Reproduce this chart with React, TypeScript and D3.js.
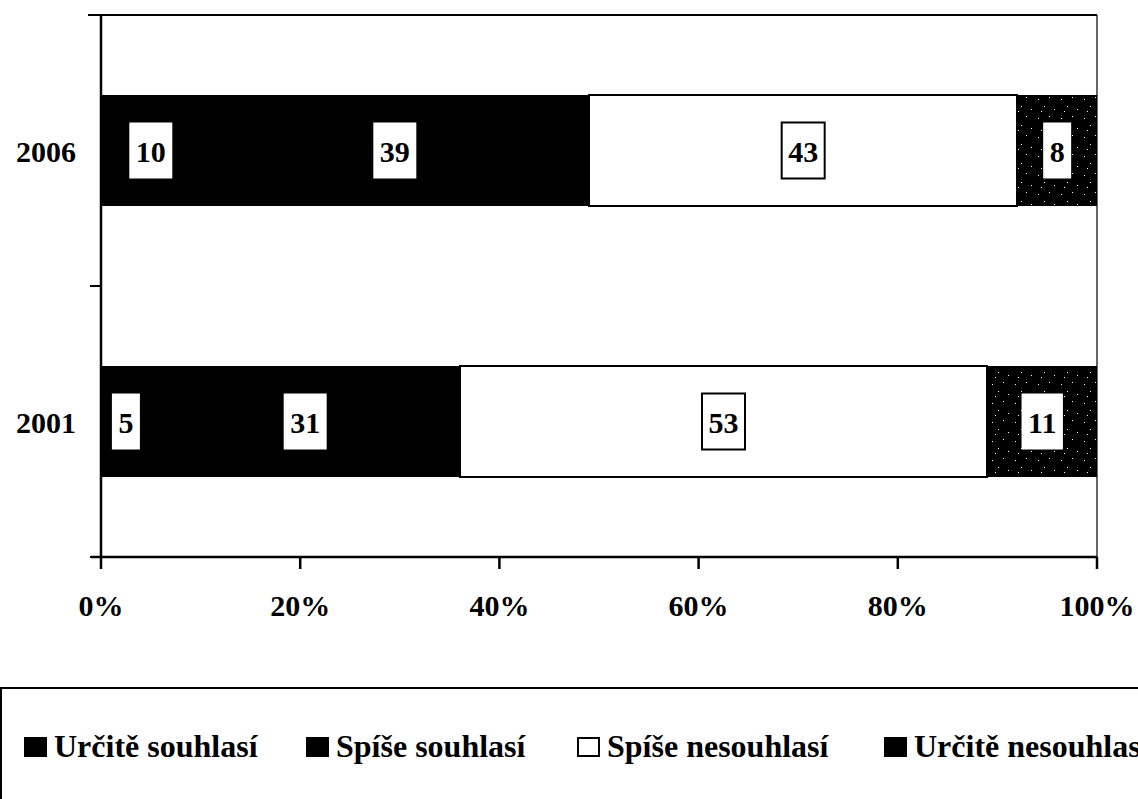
import React, { useRef, useEffect } from 'react';
import * as d3 from 'd3';

const years = ['2006', '2001'];
const seriesNames = ['Určitě souhlasí', 'Spíše souhlasí', 'Spíše nesouhlasí', 'Určitě nesouhlasí'];
const values2006 = [10, 39, 43, 8];
const values2001 = [5, 31, 53, 11];
const xTicks = [0, 20, 40, 60, 80, 100];

const fills = ['#000', '#000', '#fff', 'url(#speckle)'];

const App = () => {
    const chartRef = useRef(null);

    useEffect(() => {
        document.body.style.margin = '0';
        const width = 1138;
        const height = 799;
        const margin = { top: 15, right: 41, bottom: 242, left: 101 };
        const font = '"Liberation Serif", "Times New Roman", serif';

        const svg = d3.select(chartRef.current)
            .attr('width', width)
            .attr('height', height)
            .style('display', 'block')
            .style('background', '#fff');
        svg.selectAll('*').remove();

        const defs = svg.append('defs');
        const pat = defs.append('pattern')
            .attr('id', 'speckle')
            .attr('patternUnits', 'userSpaceOnUse')
            .attr('width', 23).attr('height', 19);
        pat.append('rect').attr('width', 23).attr('height', 19).attr('fill', '#000');
        [[3, 4], [14, 2], [9, 11], [19, 14], [6, 16]].forEach(([px, py]) => {
            pat.append('rect').attr('x', px).attr('y', py).attr('width', 1).attr('height', 1).attr('fill', '#fff');
        });

        const x = d3.scaleLinear()
            .domain([0, 100])
            .range([margin.left, width - margin.right]);
        const y = d3.scaleBand()
            .domain(years)
            .range([margin.top, height - margin.bottom])
            .paddingInner(0.594)
            .paddingOuter(0.297);

        const table = years.map((yr, i) => {
            const vals = i === 0 ? values2006 : values2001;
            const row = { year: yr };
            seriesNames.forEach((s, j) => { row[s] = vals[j]; });
            return row;
        });
        const stacked = d3.stack().keys(seriesNames)(table);

        const x0 = x(0), x1 = x(100);
        const yTop = margin.top, yBot = height - margin.bottom;

        // thin plot border top / right
        svg.append('line').attr('x1', x0 - 13).attr('x2', x1).attr('y1', yTop).attr('y2', yTop)
            .attr('stroke', '#000').attr('stroke-width', 2);
        svg.append('line').attr('x1', x1).attr('x2', x1).attr('y1', yTop).attr('y2', yBot)
            .attr('stroke', '#000').attr('stroke-width', 1.2);

        // bars
        stacked.forEach((layer, j) => {
            svg.append('g')
                .selectAll('rect')
                .data(layer)
                .enter().append('rect')
                .attr('x', d => x(d[0]))
                .attr('y', d => y(d.data.year))
                .attr('width', d => x(d[1]) - x(d[0]) + (j < 2 ? 1 : 0))
                .attr('height', y.bandwidth())
                .attr('fill', fills[j])
                .attr('shape-rendering', 'crispEdges')
                .attr('stroke', '#000')
                .attr('stroke-width', j === 2 ? 2 : 0);
        });

        // axes
        svg.append('line').attr('x1', x0).attr('x2', x0).attr('y1', yTop).attr('y2', yBot)
            .attr('stroke', '#000').attr('stroke-width', 2.5);
        svg.append('line').attr('x1', x0 - 10).attr('x2', x1).attr('y1', yBot).attr('y2', yBot)
            .attr('stroke', '#000').attr('stroke-width', 2.5);
        [yTop, (yTop + yBot) / 2, yBot].forEach(ty => {
            svg.append('line').attr('x1', x0 - 11).attr('x2', x0).attr('y1', ty).attr('y2', ty)
                .attr('stroke', '#000').attr('stroke-width', 2);
        });
        xTicks.forEach(t => {
            svg.append('line').attr('x1', x(t)).attr('x2', x(t)).attr('y1', yBot).attr('y2', yBot + 12)
                .attr('stroke', '#000').attr('stroke-width', 2.5);
            svg.append('text')
                .attr('x', x(t)).attr('y', 616)
                .attr('text-anchor', 'middle')
                .attr('font-family', font).attr('font-weight', 'bold').attr('font-size', 30)
                .text(`${t}%`);
        });
        years.forEach(yr => {
            svg.append('text')
                .attr('x', 76).attr('y', y(yr) + y.bandwidth() / 2 + 11)
                .attr('text-anchor', 'end')
                .attr('font-family', font).attr('font-weight', 'bold').attr('font-size', 30)
                .text(yr);
        });

        // data labels
        stacked.forEach((layer, j) => {
            layer.forEach(d => {
                const cx = x((d[0] + d[1]) / 2);
                const cy = y(d.data.year) + y.bandwidth() / 2;
                const g = svg.append('g');
                const box = g.append('rect');
                const txt = g.append('text')
                    .attr('x', cx).attr('y', cy + 11)
                    .attr('text-anchor', 'middle')
                    .attr('font-family', font).attr('font-weight', 'bold').attr('font-size', 30)
                    .text(d[1] - d[0]);
                const w = txt.node().getComputedTextLength() + 13;
                box.attr('x', cx - w / 2).attr('y', cy - 28)
                    .attr('width', w).attr('height', 56)
                    .attr('fill', '#fff')
                    .attr('stroke', '#000')
                    .attr('stroke-width', j === 2 ? 2 : 0);
            });
        });

        // legend
        svg.append('rect')
            .attr('x', 1).attr('y', 688).attr('width', 1200).attr('height', 200)
            .attr('fill', 'none').attr('stroke', '#000').attr('stroke-width', 2);
        const legendX = [25, 307, 578, 885];
        seriesNames.forEach((s, j) => {
            svg.append('rect')
                .attr('x', legendX[j]).attr('y', 738).attr('width', 21).attr('height', 18)
                .attr('fill', j === 2 ? '#fff' : '#000')
                .attr('stroke', '#000').attr('stroke-width', 2);
            svg.append('text')
                .attr('x', legendX[j] + 29).attr('y', 757)
                .attr('font-family', font).attr('font-weight', 'bold').attr('font-size', 32)
                .text(s);
        });
    }, []);

    return <svg ref={chartRef}></svg>;
};

export default App;
